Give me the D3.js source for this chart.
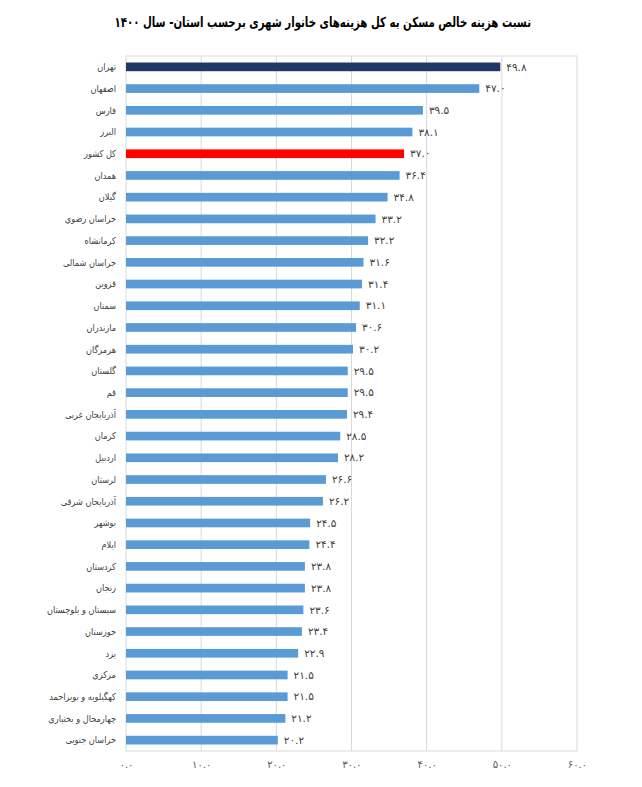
<!DOCTYPE html>
<html>
<head>
<meta charset="utf-8">
<script src="https://cdn.jsdelivr.net/npm/d3@7"></script>
<style>
  html, body { margin: 0; padding: 0; background: #fff; }
  svg { display: block; font-family: "DejaVu Sans", "Noto Sans", sans-serif; }
</style>
</head>
<body>
<svg id="chart" width="642" height="787"></svg>
<script>
const title = "نسبت هزینه خالص مسکن به کل هزینه‌های خانوار شهری برحسب استان- سال ۱۴۰۰";
const provinces = ["تهران","اصفهان","فارس","البرز","کل کشور","همدان","گیلان","خراسان رضوی","کرمانشاه","خراسان شمالی","قزوین","سمنان","مازندران","هرمزگان","گلستان","قم","آذربایجان غربی","کرمان","اردبیل","لرستان","آذربایجان شرقی","بوشهر","ایلام","کردستان","زنجان","سیستان و بلوچستان","خوزستان","یزد","مرکزی","کهگیلویه و بویراحمد","چهارمحال و بختیاری","خراسان جنوبی"];
const values = [49.8,47.0,39.5,38.1,37.0,36.4,34.8,33.2,32.2,31.6,31.4,31.1,30.6,30.2,29.5,29.5,29.4,28.5,28.2,26.6,26.2,24.5,24.4,23.8,23.8,23.6,23.4,22.9,21.5,21.5,21.2,20.2];
const xTicks = [0,10,20,30,40,50,60];
const highlight = {"تهران": "#203864", "کل کشور": "#FF0000"};
const baseColor = "#5B9BD5";

const fa = s => s.replace(/[0-9]/g, d => "۰۱۲۳۴۵۶۷۸۹"[+d]);
const fmt = v => fa(d3.format(".1f")(v));

const svg = d3.select("#chart");
const L = 126, R = 577, T = 56, B = 751;

const x = d3.scaleLinear().domain([0, 60]).range([L, R]);
const y = d3.scaleBand().domain(provinces).range([T, B]).paddingInner(0.6).paddingOuter(0.3);

// title (compressed horizontally to match the reference width)
const tg = svg.append("g");
const tt = tg.append("text")
  .attr("x", 0).attr("y", 0)
  .attr("font-size", 14).attr("font-weight", "bold")
  .attr("fill", "#000")
  .text(title);
const tb = tt.node().getBBox();
const sx = 417 / tb.width;
tg.attr("transform", `translate(${323 - 417 / 2},27) scale(${sx},1) translate(${-tb.x},0)`);

// gridlines
svg.append("g").selectAll("line").data(xTicks.slice(1, -1)).join("line")
  .attr("x1", d => x(d)).attr("x2", d => x(d))
  .attr("y1", T).attr("y2", B)
  .attr("stroke", "#d9d9d9").attr("stroke-width", 1);

// plot border
svg.append("rect")
  .attr("x", L).attr("y", T).attr("width", R - L).attr("height", B - T)
  .attr("fill", "none").attr("stroke", "#d9d9d9").attr("stroke-width", 1);

// bars
svg.append("g").selectAll("rect").data(provinces).join("rect")
  .attr("x", x(0))
  .attr("y", d => y(d))
  .attr("height", y.bandwidth())
  .attr("width", (d, i) => x(values[i]) - x(0))
  .attr("fill", d => highlight[d] || baseColor);

// value labels
svg.append("g").selectAll("text").data(provinces).join("text")
  .attr("x", (d, i) => x(values[i]) + 6)
  .attr("y", d => y(d) + y.bandwidth() / 2)
  .attr("dy", "0.35em")
  .attr("font-size", 10.5)
  .attr("fill", "#404040")
  .text((d, i) => fmt(values[i]));

// category labels
const cg = svg.append("g").attr("transform", "translate(116,0) scale(0.86,1)");
cg.selectAll("text").data(provinces).join("text")
  .attr("x", 0)
  .attr("y", d => y(d) + y.bandwidth() / 2)
  .attr("dy", "0.35em")
  .attr("text-anchor", "end")
  .attr("font-size", 9.5)
  .attr("fill", "#404040")
  .text(d => d);

// x axis labels
const xAxis = d3.axisBottom(x).tickValues(xTicks).tickSize(0).tickPadding(10).tickFormat(fmt);
const gx = svg.append("g").attr("transform", `translate(0,${B})`).call(xAxis);
gx.select(".domain").remove();
gx.selectAll("text").attr("font-size", 10).attr("fill", "#595959").attr("font-family", "DejaVu Sans, sans-serif");
</script>
</body>
</html>
